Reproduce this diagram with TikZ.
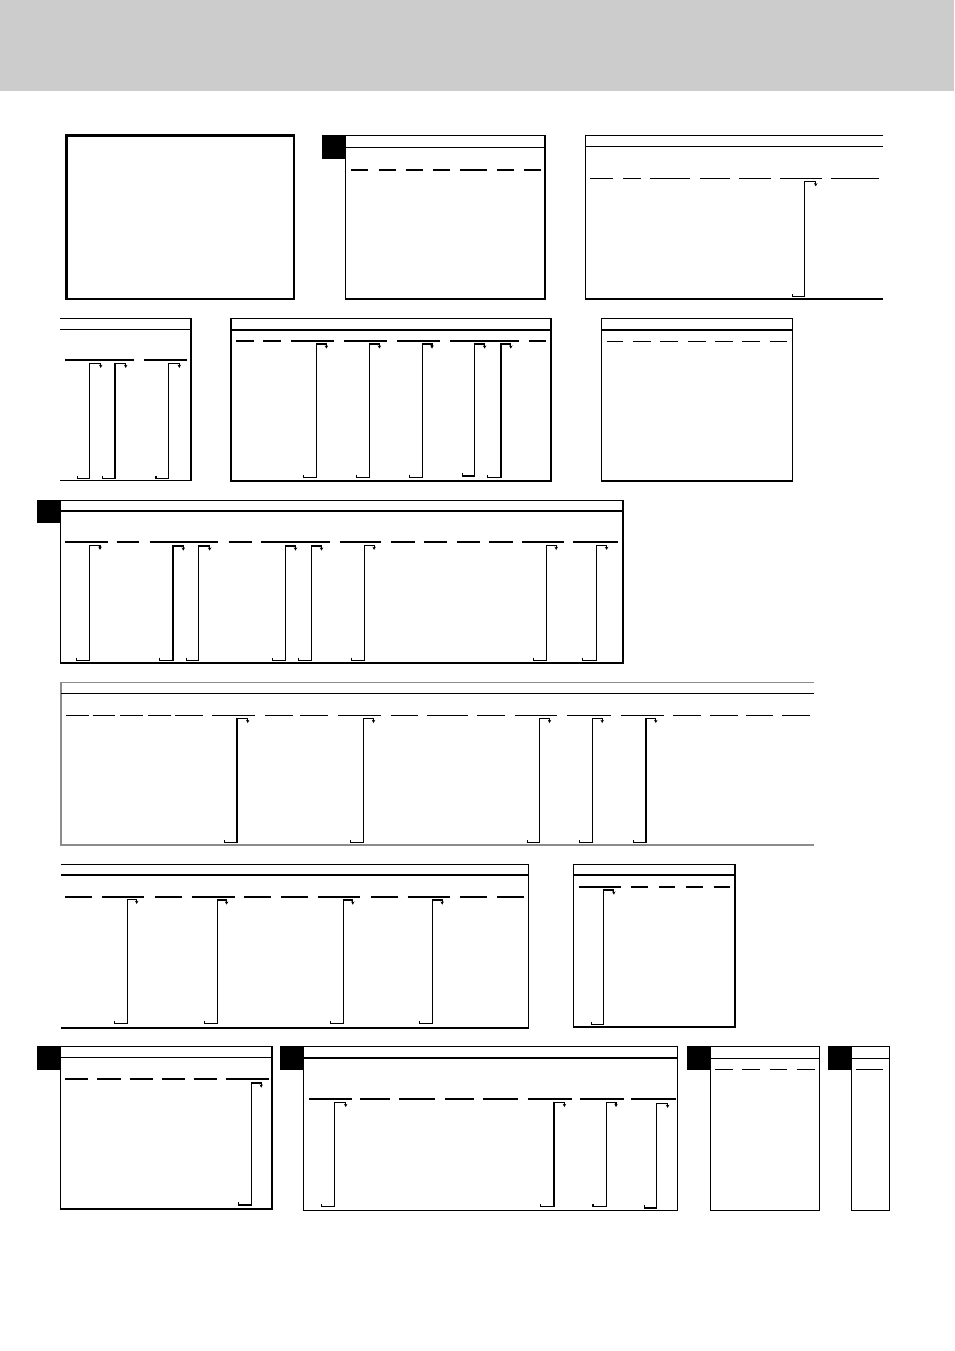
\documentclass[tikz,border=0pt]{standalone}
\usetikzlibrary{arrows.meta}
\tikzset{
  frame/.style={line width=1.1pt, line join=miter},
  thickframe/.style={line width=1.6pt},
  grayframe/.style={line width=1.1pt, draw=black!45},
  rule/.style={line width=1.1pt},
  brack/.style={line width=0.8pt, -{Stealth[length=2.4pt,width=2.6pt]}},
  blk/.style={fill=black}
}
\newcommand\brk[5]{\draw[brack] ({#1},{#5-2.6}) -- ({#1},{#5}) -- ({#2},{#5}) -- ({#2},{#4}) -- ({#3},{#4}) -- ({#3},{#4+4.6});}
\newcommand\dashrow[2]{\foreach \a/\b in {#2} {\draw[rule] (\a,#1) -- (\b,#1);}}
\begin{document}
\begin{tikzpicture}[x=0.75pt,y=-0.75pt]
\useasboundingbox (0,0) rectangle (954,1351);
\fill[fill={rgb,255:red,204;green,204;blue,204}] (0,0) rectangle (954,91);

% panel 1
\draw[thickframe] (66.5,135.5) rectangle (294,299);

% panel 2
\fill[blk] (322,135) rectangle (345.5,158.8);
\draw[frame] (345.5,135.5) rectangle (545,299);
\draw[frame] (345.5,147.3) -- (545,147.3);
\dashrow{170}{351/368,378.5/396,405.5/423,433/450,460/487,497/514,524/541}

% panel 3
\draw[frame] (883,135.5) -- (585.7,135.5) -- (585.7,299) -- (883,299);
\draw[frame] (585.7,146.7) -- (883,146.7);
\dashrow{178.3}{590/613,623.3/641,650/690,700/730,739.3/771,780/822,830.7/879}
\brk{792.3}{804.3}{815.7}{181.7}{296.7}

% panel 4
\draw[frame] (60,318.3) -- (191,318.3) -- (191,480.7) -- (60,480.7);
\draw[frame] (60,329.3) -- (191,329.3);
\dashrow{360}{65/134,144/187}
\brk{77.3}{89.3}{100.7}{363.3}{478.3}
\brk{102.7}{115}{125.7}{363.3}{478.3}
\brk{156}{168.3}{179.3}{363.3}{478.3}

% panel 5
\draw[frame] (231,318.3) rectangle (551,481);
\draw[frame] (231,330) -- (551,330);
\dashrow{340.8}{236/254.2,263/280.7,291/334,343.8/386.7,396.8/439.6,449.8/518.7,529/545.6}
\brk{303.2}{316.3}{326.4}{344}{477.3}
\brk{356.2}{369.2}{379.4}{344}{477.3}
\brk{409.2}{422.2}{432}{344}{477.3}
\brk{462.3}{474.5}{484.6}{344}{476}
\brk{487.9}{501}{510.8}{344}{477.3}

% panel 6
\draw[frame] (601.3,318.3) rectangle (792.5,481);
\draw[frame] (601.3,330) -- (792.5,330);
\dashrow{341.3}{606.6/623,633.4/651,660.2/678,688/706,715/733,742.3/760,770/787}

% panel 7
\fill[blk] (36.5,500) rectangle (60.5,523.4);
\draw[frame] (60.5,500.3) rectangle (623,663);
\draw[frame] (60.5,511) -- (623,511);
\dashrow{541.8}{65/107.7,116.5/139.4,149.7/218.4,228.7/251.6,260.8/329.8,339.8/381.4,391.3/415,423.7/446.6,457/479.8,489/512.7,521.8/563.8,573.4/618}
\brk{76.4}{89.8}{100}{545.3}{660.3}
\brk{159.6}{173}{183.3}{546}{660.3}
\brk{186.7}{198.9}{209.6}{546}{660.3}
\brk{272.6}{285.2}{295.5}{546}{660.3}
\brk{298.2}{311.1}{321.5}{546}{660.3}
\brk{351.2}{364.2}{374.1}{545.3}{660.3}
\brk{533.3}{546.6}{556.2}{545.3}{660.3}
\brk{582.9}{596.6}{606.6}{545.3}{660.3}

% panel 8
\draw[grayframe] (813.5,682.3) -- (61,682.3) -- (61,845) -- (813.5,845);
\draw[frame] (61,693.4) -- (813.5,693.4);
\dashrow{715.4}{66/89.3,93.2/115.1,120/142.9,148/170.7,175.1/203.4,212.1/255,264.8/292.6,300.4/328.2,338/380.8,390.6/418.4,427/467.6,477.4/504.7,514.5/557.3,567.1/611,620.7/663.6,672.9/701.2,709.5/737.7,745.5/773.3,781.6/810}
\brk{224.3}{237}{247.7}{718.4}{842.7}
\brk{350.6}{363.3}{373.5}{718.4}{842.7}
\brk{527.1}{539.3}{549.5}{718.4}{842.7}
\brk{579.3}{592.4}{602.2}{718.4}{842.7}
\brk{633.3}{646}{655.8}{718.4}{842.7}

% panel 9
\draw[frame] (61,864.3) -- (528.3,864.3) -- (528.3,1028) -- (61,1028);
\draw[frame] (61,875) -- (528.3,875);
\dashrow{897}{64.8/92.3,101.6/144.4,154.8/181.7,191.5/234.8,243.6/271,280.9/307.8,317.7/360.4,370.9/397.8,407.6/449.8,459.7/487.1,497/524}
\brk{114.2}{127.4}{136.7}{899.3}{1023.3}
\brk{204.1}{217.3}{226.6}{900}{1023.3}
\brk{330.3}{343.4}{352.8}{900}{1023.3}
\brk{419.1}{432.3}{442.2}{900}{1023.3}

% panel 10
\draw[frame] (573.3,864.3) rectangle (735,1027);
\draw[frame] (573.3,875) -- (735,875);
\dashrow{887}{578.7/621,631.4/648.4,658.8/675.3,686.3/702.7,713.6/730.1}
\brk{591.3}{603.4}{613.8}{890}{1024.3}

% panel 11
\fill[blk] (37.3,1046.3) rectangle (60.7,1069.7);
\draw[frame] (60.7,1046.7) rectangle (272,1209);
\draw[frame] (60.7,1057.3) -- (272,1057.3);
\dashrow{1079}{64.8/88.4,97.2/120.8,129.6/152.6,161.9/184.9,193.7/216.8,226.4/268.8}
\brk{238.1}{251.3}{261.2}{1083}{1205}

% panel 12
\fill[blk] (280,1046.3) rectangle (303.3,1069.5);
\draw[frame] (303.3,1046.7) rectangle (677.5,1210.5);
\draw[frame] (303.3,1057.8) -- (677.5,1057.8);
\dashrow{1099}{309/351.7,360/389.8,399.2/434.5,444.5/473.8,482.7/518.4,527.7/571.6,579.8/623.7,631.4/675.8}
\brk{321.3}{334.2}{345.7}{1102.4}{1206.7}
\brk{540.9}{554}{564.4}{1102.4}{1206.7}
\brk{593}{606.1}{616}{1102.4}{1206.7}
\brk{644.5}{656.6}{667.6}{1103.3}{1208}

% panel 13
\fill[blk] (687.3,1046.3) rectangle (710.7,1069.5);
\draw[frame] (710.7,1046.7) rectangle (819.3,1210.5);
\draw[frame] (710.7,1058.3) -- (819.3,1058.3);
\dashrow{1069.3}{715/732.7,742.3/760,770/787.3,796.7/815}

% panel 14
\fill[blk] (827.7,1046.3) rectangle (851.7,1069.5);
\draw[frame] (851.7,1046.7) rectangle (889.3,1210.5);
\draw[frame] (851.7,1058.3) -- (889.3,1058.3);
\dashrow{1069.3}{856/883.3}
\end{tikzpicture}
\end{document}
